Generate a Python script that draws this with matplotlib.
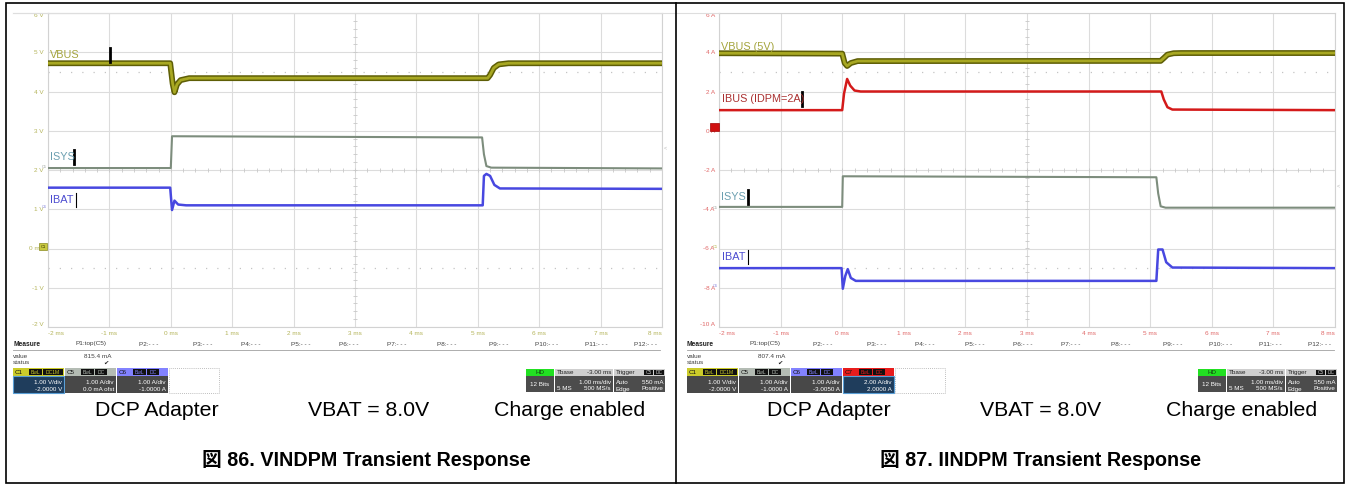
import matplotlib
matplotlib.use('Agg')
import matplotlib.pyplot as plt
from matplotlib.patches import Rectangle
from matplotlib.lines import Line2D
import numpy as np

plt.rcParams['font.family'] = ['Liberation Sans', 'Noto Sans CJK JP', 'DejaVu Sans']

W, H = 1350, 487

# ---------------- data ----------------
time_ticks = [-2, -1, 0, 1, 2, 3, 4, 5, 6, 7, 8]
time_labels = ['-2 ms', '-1 ms', '0 ms', '1 ms', '2 ms', '3 ms', '4 ms', '5 ms', '6 ms', '7 ms', '8 ms']

f86_ticks = [-2, -1, 0, 1, 2, 3, 4, 5, 6]
f86_labels = ['-2 V', '-1 V', '0 mV', '1 V', '2 V', '3 V', '4 V', '5 V', '6 V']
f87_ticks = [-10, -8, -6, -4, -2, 0, 2, 4, 6]
f87_labels = ['-10 A', '-8 A', '-6 A', '-4 A', '-2 A', '0 A', '2 A', '4 A', '6 A']

# Figure 86 traces (screen scale in V)
f86_vbus_t = [-2.0, -0.01, 0.03, 0.06, 0.10, 0.16, 0.30, 5.16, 5.20, 5.26, 5.34, 5.50, 8.0]
f86_vbus_v = [4.72, 4.72, 4.20, 3.98, 4.18, 4.29, 4.34, 4.34, 4.42, 4.60, 4.69, 4.72, 4.72]
f86_isys_t = [-2.0, 0.0, 0.02, 5.07, 5.10, 5.14, 5.22, 8.0]
f86_isys_v = [2.05, 2.05, 2.86, 2.83, 2.40, 2.10, 2.06, 2.04]
f86_ibat_t = [-2.0, -0.01, 0.02, 0.06, 0.12, 0.25, 5.08, 5.10, 5.14, 5.20, 5.27, 5.36, 8.0]
f86_ibat_v = [1.55, 1.55, 0.98, 1.22, 1.12, 1.10, 1.10, 1.85, 1.90, 1.85, 1.62, 1.53, 1.52]

# Figure 87 traces (screen scale in A)
f87_vbus_t = [-2.0, 0.0, 0.04, 0.08, 0.14, 0.25, 5.17, 5.22, 5.28, 5.38, 5.50, 8.0]
f87_vbus_v = [3.95, 3.93, 3.45, 3.30, 3.45, 3.55, 3.56, 3.70, 3.88, 3.95, 3.96, 3.96]
f87_ibus_t = [-2.0, 0.0, 0.03, 0.08, 0.13, 0.20, 0.30, 5.18, 5.22, 5.28, 5.36, 8.0]
f87_ibus_v = [1.05, 1.05, 1.90, 2.64, 2.30, 2.05, 2.00, 2.00, 1.60, 1.20, 1.08, 1.05]
f87_isys_t = [-2.0, 0.0, 0.01, 5.10, 5.13, 5.17, 5.25, 8.0]
f87_isys_v = [-3.88, -3.88, -2.32, -2.37, -3.20, -3.85, -3.92, -3.92]
f87_ibat_t = [-2.0, -0.01, 0.01, 0.05, 0.09, 0.14, 0.22, 5.10, 5.13, 5.20, 5.26, 5.36, 8.0]
f87_ibat_v = [-7.0, -7.0, -8.05, -7.40, -7.05, -7.50, -7.65, -7.65, -6.05, -6.05, -6.70, -6.97, -7.0]

f86_measure = '815.4 mA'
f87_measure = '807.4 mA'
f86_channels = [('C1', '1.00 V/div', '-2.0000 V'),
                ('C5', '1.00 A/div', '0.0 mA ofst'),
                ('C6', '1.00 A/div', '-1.0000 A')]
f87_channels = [('C1', '1.00 V/div', '-2.0000 V'),
                ('C5', '1.00 A/div', '-1.0000 A'),
                ('C6', '1.00 A/div', '-3.0050 A'),
                ('C7', '2.00 A/div', '2.0000 A')]
param_names = ['P1:top(C5)', 'P2:- - -', 'P3:- - -', 'P4:- - -', 'P5:- - -', 'P6:- - -',
               'P7:- - -', 'P8:- - -', 'P9:- - -', 'P10:- - -', 'P11:- - -', 'P12:- - -']
captions = ['DCP Adapter', 'VBAT = 8.0V', 'Charge enabled']
title86 = '図 86. VINDPM Transient Response'
title87 = '図 87. IINDPM Transient Response'

# ---------------- styling ----------------
C_VBUS_DARK = '#5e5e06'
C_VBUS = '#a8a822'
C_ISYS = '#7d8d7d'
C_IBAT = '#4848e0'
C_IBUS = '#d41a1a'
HDR = {'C1': '#cccc2a', 'C5': '#b4bcb4', 'C6': '#8282ff', 'C7': '#e81c1c'}

fig = plt.figure(figsize=(W / 100, H / 100), dpi=100)
fig.patch.set_facecolor('white')


def fx(x):
    return x / W


def fy(y):
    return 1 - y / H


def ftext(x, y, s, **kw):
    kw.setdefault('va', 'center')
    fig.text(fx(x), fy(y), s, **kw)


def frect(x0, y0, x1, y1, **kw):
    fig.add_artist(Rectangle((fx(x0), fy(y1)), (x1 - x0) / W, (y1 - y0) / H,
                             transform=fig.transFigure, **kw))


def fline(xs, ys, **kw):
    fig.add_artist(Line2D([fx(x) for x in xs], [fy(y) for y in ys],
                          transform=fig.transFigure, **kw))


def draw_scope(box, yticks, ylabels, tick_color, traces, labels):
    x0, y0, x1, y1 = box
    ax = fig.add_axes([fx(x0), fy(y1), (x1 - x0) / W, (y1 - y0) / H])
    ymin, ymax = yticks[0], yticks[-1]
    div = (ymax - ymin) / 8.0
    ax.set_xlim(-2, 8)
    ax.set_ylim(ymin, ymax)
    ax.set_xticks(time_ticks)
    ax.set_xticklabels(time_labels)
    ax.set_yticks(yticks)
    ax.set_yticklabels(ylabels)
    ax.tick_params(length=0, labelsize=4.6, labelcolor=tick_color, pad=3)
    ax.grid(True, color='#dcdcdc', lw=0.8)
    ax.set_axisbelow(True)
    for s in ax.spines.values():
        s.set_color('#d2d2d2')
        s.set_linewidth(0.8)
    xl = ax.get_xticklabels()
    xl[0].set_ha('left')
    xl[-1].set_ha('right')
    yl = ax.get_yticklabels()
    yl[0].set_va('bottom')
    yl[-1].set_va('top')
    # dotted reference levels
    for d in (1.5, 6.5):
        ax.axhline(ymax - d * div, color='#c4c4c4', lw=0.9, ls=(0, (1, 8)))
    # minor ticks along the centre lines
    yc = ymax - 4 * div
    ax.plot(np.arange(-2, 8.001, 0.2), np.full(51, yc), ls='none', marker='|',
            ms=3, color='#c8c8c8', mew=0.6)
    ax.plot(np.full(41, 3.0), np.arange(ymin, ymax + 1e-6, div / 5), ls='none',
            marker='_', ms=3, color='#c8c8c8', mew=0.6)
    # traces
    for t, v, kind in traces:
        if kind == 'vbus':
            ax.plot(t, v, color=C_VBUS_DARK, lw=4.2, solid_joinstyle='round', zorder=3)
            ax.plot(t, v, color=C_VBUS, lw=2.0, solid_joinstyle='round', zorder=4)
        else:
            col = {'isys': C_ISYS, 'ibat': C_IBAT, 'ibus': C_IBUS}[kind]
            lw = 1.5 if kind == 'isys' else 1.8
            ax.plot(t, v, color=col, lw=lw, solid_joinstyle='round', zorder=3)
    # trace labels with cursor bars
    for (lx, ly, txt, col, bx, bw) in labels:
        ftext(lx, ly, txt, color=col, fontsize=7.8, ha='left')
        if bw > 0:
            fline([bx, bx], [ly - 7, ly + 7], color='black', lw=bw)
    # faint screen edge at top-left
    fline([13, x0], [y0, y0], color='#dedede', lw=0.8)
    return ax


# ---------------- Figure 86 scope ----------------
draw_scope((48, 13, 662, 327), f86_ticks, f86_labels, '#b4b45a',
           [(f86_vbus_t, f86_vbus_v, 'vbus'),
            (f86_isys_t, f86_isys_v, 'isys'),
            (f86_ibat_t, f86_ibat_v, 'ibat')],
           [(50, 55, 'VBUS', '#a4a43c', 110, 2.0),
            (50, 157, 'ISYS', '#6b9fb0', 74, 2.0),
            (50, 200, 'IBAT', '#4c4cd0', 76, 0.8)])

# ---------------- Figure 87 scope ----------------
draw_scope((719, 13, 1335, 327), f87_ticks, f87_labels, '#e06868',
           [(f87_vbus_t, f87_vbus_v, 'vbus'),
            (f87_ibus_t, f87_ibus_v, 'ibus'),
            (f87_isys_t, f87_isys_v, 'isys'),
            (f87_ibat_t, f87_ibat_v, 'ibat')],
           [(721, 47, 'VBUS (5V)', '#a4a43c', 0, 0),
            (722, 99, 'IBUS (IDPM=2A)', '#aa3030', 802, 2.0),
            (721, 197, 'ISYS', '#6b9fb0', 748, 2.0),
            (722, 257, 'IBAT', '#4c4cd0', 748, 0.8)])

# channel ground markers
frect(39, 243, 47, 250, facecolor='#c8c840', edgecolor='#8a8a20', lw=0.5, zorder=10)
ftext(43, 246.5, 'C1', fontsize=3, ha='center', color='#333300', zorder=11)
ftext(44, 167, 'C5', fontsize=2.8, ha='center', color='#9aa09a')
ftext(44, 207, 'C6', fontsize=2.8, ha='center', color='#8a8ae0')
frect(710, 123, 719, 131, facecolor='#d01010', edgecolor='#a00000', lw=0.5, zorder=10)
ftext(715, 208, 'C5', fontsize=2.8, ha='center', color='#9aa09a')
ftext(715, 247, 'C1', fontsize=2.8, ha='center', color='#b0b040')
ftext(715, 286, 'C6', fontsize=2.8, ha='center', color='#8a8ae0')
ftext(665, 148, '<', fontsize=4, ha='center', color='#b8b8b8')
ftext(1338, 186, '<', fontsize=4, ha='center', color='#b8b8b8')


# ---------------- scope status area ----------------
P_OFFSETS = [63, 126, 180, 228, 278, 326, 374, 424, 476, 522, 572, 621]


def draw_status(mx, measure, channels, info_x, sel_idx):
    small = dict(fontsize=4.6, color='#404040')
    ftext(mx, 344, 'Measure', fontsize=4.8, fontweight='bold', color='#202020', ha='left')
    for off, name in zip(P_OFFSETS, param_names):
        ftext(mx + off, 344, name, ha='left', **small)
    fline([mx, mx + 647], [350, 350], color='#a0a0a0', lw=0.6)
    ftext(mx, 356, 'value', ha='left', **small)
    ftext(mx + 98, 356, measure, ha='right', **small)
    ftext(mx, 363, 'status', ha='left', **small)
    ftext(mx + 96, 363, '✔', ha='right', fontsize=4.6, color='#202020')
    # channel boxes
    cx = mx
    for i, (name, l1, l2) in enumerate(channels):
        w = 51
        frect(cx, 368, cx + w, 376, facecolor=HDR[name], edgecolor='none')
        ftext(cx + 2, 372, name, fontsize=4.5, ha='left', color='#111111')
        frect(cx + 16, 368.8, cx + 29, 375.2, facecolor='#111111', edgecolor='none')
        ftext(cx + 22.5, 372, 'BwL', fontsize=3.6, ha='center', color=HDR[name])
        dc = 'DC1M' if name == 'C1' else 'DC'
        dw = 20 if name == 'C1' else 12
        frect(cx + 30, 368.8, cx + 30 + dw, 375.2, facecolor='#111111', edgecolor='none')
        ftext(cx + 30 + dw / 2, 372, dc, fontsize=3.6, ha='center', color=HDR[name])
        if i == sel_idx:
            frect(cx, 376, cx + w, 393, facecolor='#1f3d5c', edgecolor='#5a9fd6', lw=0.8)
        else:
            frect(cx, 376, cx + w, 393, facecolor='#484848', edgecolor='none')
        ftext(cx + w - 2, 382.5, l1, fontsize=4.5, ha='right', color='white')
        ftext(cx + w - 2, 389.5, l2, fontsize=4.5, ha='right', color='white')
        cx += w + 1
    frect(cx, 368, cx + 50, 393, facecolor='none', edgecolor='#a8a8a8', lw=0.6, ls=(0, (1, 1.5)))
    # timebase / trigger boxes
    hx = info_x
    frect(hx, 369, hx + 28, 376, facecolor='#22e022', edgecolor='none')
    ftext(hx + 14, 372.5, 'HD', fontsize=4.5, ha='center', color='#114411')
    frect(hx, 376, hx + 28, 392, facecolor='#4c4c4c', edgecolor='none')
    ftext(hx + 14, 384, '12 Bits', fontsize=4.5, ha='center', color='white')
    tx = hx + 29
    frect(tx, 369, tx + 58, 376, facecolor='#cfcfcf', edgecolor='none')
    ftext(tx + 2, 372.5, 'Tbase', fontsize=4.5, ha='left', color='#222222')
    ftext(tx + 56, 372.5, '-3.00 ms', fontsize=4.5, ha='right', color='#222222')
    frect(tx, 376, tx + 58, 392, facecolor='#4c4c4c', edgecolor='none')
    ftext(tx + 56, 382, '1.00 ms/div', fontsize=4.5, ha='right', color='white')
    ftext(tx + 2, 389, '5 MS', fontsize=4.5, ha='left', color='white')
    ftext(tx + 56, 389, '500 MS/s', fontsize=4.5, ha='right', color='white')
    gx = tx + 59
    frect(gx, 369, gx + 51, 376, facecolor='#cfcfcf', edgecolor='none')
    ftext(gx + 2, 372.5, 'Trigger', fontsize=4.5, ha='left', color='#222222')
    frect(gx + 30, 369.8, gx + 39, 375.2, facecolor='#111111', edgecolor='none')
    ftext(gx + 34.5, 372.5, 'C5', fontsize=3.5, ha='center', color='#c8c8c8')
    frect(gx + 40, 369.8, gx + 50, 375.2, facecolor='#111111', edgecolor='none')
    ftext(gx + 45, 372.5, 'DC', fontsize=3.5, ha='center', color='#c8c8c8')
    frect(gx, 376, gx + 51, 392, facecolor='#4c4c4c', edgecolor='none')
    ftext(gx + 2, 382, 'Auto', fontsize=4.5, ha='left', color='white')
    ftext(gx + 49, 382, '550 mA', fontsize=4.5, ha='right', color='white')
    ftext(gx + 2, 389, 'Edge', fontsize=4.5, ha='left', color='white')
    ftext(gx + 49, 389, 'Positive', fontsize=4.5, ha='right', color='white')


draw_status(13, f86_measure, f86_channels, 526, 0)
draw_status(687, f87_measure, f87_channels, 1198, 3)

# ---------------- captions and titles ----------------
for dx in (0, 672):
    for cx_, txt in zip((157, 369, 570), captions):
        ftext(cx_ + dx, 411, txt, fontsize=15.3, ha='center', color='black')
ftext(366, 460, title86, fontsize=14.2, fontweight='bold', ha='center', color='black')
ftext(1040, 460, title87, fontsize=14.2, fontweight='bold', ha='center', color='black')

# ---------------- table borders ----------------
frect(6, 3, 1344, 483, facecolor='none', edgecolor='black', lw=1.2)
fline([676, 676], [3, 483], color='black', lw=1.2)

fig.savefig('out.png', dpi=100, facecolor='white')
